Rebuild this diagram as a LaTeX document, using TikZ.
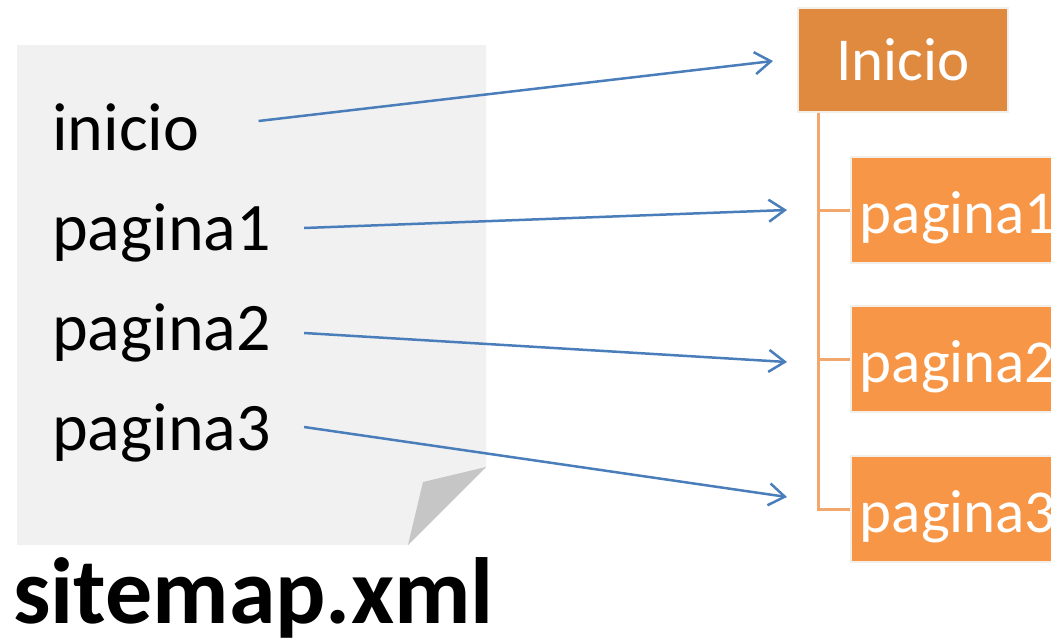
\documentclass[tikz,border=0pt]{standalone}
\usepackage{fontspec}
\setmainfont{Carlito}
\usetikzlibrary{arrows.meta,calc}
\definecolor{paper}{HTML}{F1F1F1}
\definecolor{fold}{HTML}{C6C6C6}
\definecolor{topbox}{HTML}{DF8A3F}
\definecolor{subbox}{HTML}{F79646}
\definecolor{boxedge}{HTML}{F2EEEA}
\definecolor{treeorange}{HTML}{F2A86C}
\definecolor{arrowblue}{HTML}{4A7EBB}
\tikzset{
  listtext/.style={inner sep=0pt, anchor=base west, font=\fontsize{68}{80}\selectfont},
  titletext/.style={inner sep=0pt, anchor=base west, font=\bfseries\fontsize{94}{100}\selectfont},
  rootbox/.style={fill=topbox, draw=boxedge, line width=1.5pt, text=white,
    font=\fontsize{61}{70}\selectfont, text height=44pt, text depth=4pt,
    inner ysep=28pt, inner xsep=0pt, minimum width=210pt, anchor=base},
  pagebox/.style={fill=subbox, draw=boxedge, line width=1.5pt, text=white,
    font=\fontsize{61}{70}\selectfont, text height=50pt, text depth=4pt,
    inner ysep=26pt, inner xsep=9pt, text width=250pt, align=left, anchor=base west},
  treeline/.style={draw=treeorange, line width=3pt},
  link/.style={draw=arrowblue, line width=2.5pt, -{Straight Barb[length=16pt,width=22pt]}}
}
\begin{document}
\begin{tikzpicture}[x=1pt,y=-1pt]
\useasboundingbox (0,0) rectangle (1051,637);
\clip (0,0) rectangle (1051,637);
% paper sheet
\fill[paper] (17,45) -- (486,45) -- (486,467) -- (408,545) -- (17,545) -- cycle;
\fill[fold] (486,467) -- (423,482) -- (408,545) -- cycle;
% list text
\node[listtext] (t0) at (52,150) {inicio};
\node[listtext] (t1) at (52,250) {pagina1};
\node[listtext] (t2) at (52,350) {pagina2};
\node[listtext] (t3) at (52,450) {pagina3};
\node[titletext] (title) at (13,623) {sitemap.xml};
% hierarchy
\node[rootbox] (root) at (903,80) {Inicio};
\node[pagebox] (p1) at (850,233) {pagina1};
\node[pagebox] (p2) at (850,382) {pagina2};
\node[pagebox] (p3) at (850,532) {pagina3};
\draw[treeline] ([xshift=-85pt]root.south) |- (p3.west);
\draw[treeline] ([xshift=-85pt]root.south) |- (p1.west);
\draw[treeline] ([xshift=-85pt]root.south) |- (p2.west);
% arrow targets
\coordinate (e0) at (773,61);
\coordinate (e1) at (787,210);
\coordinate (e2) at (787,362);
\coordinate (e3) at (787,497);
\draw[link] ([shift={(59,-29)}]t0.base east) -- (e0);
\draw[link] ([shift={(33,-22)}]t1.base east) -- (e1);
\draw[link] ([shift={(33,-17)}]t2.base east) -- (e2);
\draw[link] ([shift={(33,-23)}]t3.base east) -- (e3);
\end{tikzpicture}
\end{document}
